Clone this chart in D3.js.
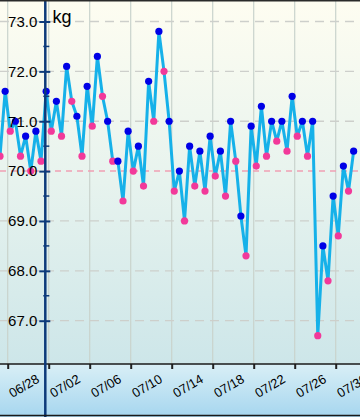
<!DOCTYPE html>
<html>
<head>
<meta charset="utf-8">
<script src="https://cdn.jsdelivr.net/npm/d3@7"></script>
<style>
  html, body { margin: 0; padding: 0; background: #fff; }
  svg { display: block; font-family: "Liberation Sans", Arial, sans-serif; }
</style>
</head>
<body>
<svg id="chart" width="360" height="417"></svg>
<script>
// ---- data ----
const days = ["06/27","06/28","06/29","06/30","07/01","07/02","07/03","07/04","07/05","07/06",
              "07/07","07/08","07/09","07/10","07/11","07/12","07/13","07/14","07/15","07/16",
              "07/17","07/18","07/19","07/20","07/21","07/22","07/23","07/24","07/25","07/26",
              "07/27","07/28","07/29","07/30","07/31"];
const morning = [70.3,70.8,70.3,70.0,70.2,70.8,70.7,71.4,70.3,70.9,
                 71.5,70.2,69.4,70.0,69.7,71.0,72.0,69.6,69.0,69.7,
                 69.6,69.9,69.5,70.2,68.3,70.1,70.3,70.6,70.4,70.7,
                 70.3,66.7,67.8,68.7,69.6];
const evening = [71.6,71.0,70.7,70.8,71.6,71.4,72.1,71.1,71.7,72.3,
                 71.0,70.2,70.8,70.5,71.8,72.8,71.0,70.0,70.5,70.4,
                 70.7,70.4,71.0,69.1,70.9,71.3,71.0,71.0,71.5,71.0,
                 71.0,68.5,69.5,70.1,70.4];
const xTickLabels = ["06/28","07/02","07/06","07/10","07/14","07/18","07/22","07/26","07/30"];
const yTicks = [67, 68, 69, 70, 71, 72, 73];
const yMinorTicks = [67.5, 68.5, 69.5, 70.5, 71.5, 72.5];
const target = 70.0;
const unit = "kg";

// ---- setup ----
const W = 360, H = 417, plotBottom = 364, axisX = 45.3;
const parse = s => d3.timeParse("%Y/%m/%d")("2013/" + s);
const points = [];
days.forEach((d, i) => {
  const base = parse(d);
  points.push({t: d3.timeHour.offset(base, 6), v: morning[i], kind: "m"});
  points.push({t: d3.timeHour.offset(base, 18), v: evening[i], kind: "e"});
});

const x = d3.scaleTime()
  .domain([parse("06/28"), parse("07/30")])
  .range([7.7, 335.7]);
const y = d3.scaleLinear().domain([67, 73]).range([320.7, 21.5]);

const svg = d3.select("#chart");
const defs = svg.append("defs");
const g1 = defs.append("linearGradient").attr("id", "bgPlot").attr("x1", 0).attr("y1", 0).attr("x2", 0).attr("y2", 1);
g1.append("stop").attr("offset", "0%").attr("stop-color", "#fefdf1");
g1.append("stop").attr("offset", "50%").attr("stop-color", "#e7f3ee");
g1.append("stop").attr("offset", "100%").attr("stop-color", "#cde6e9");
const g2 = defs.append("linearGradient").attr("id", "bgAxis").attr("x1", 0).attr("y1", 0).attr("x2", 0).attr("y2", 1);
g2.append("stop").attr("offset", "0%").attr("stop-color", "#d9eff6");
g2.append("stop").attr("offset", "100%").attr("stop-color", "#a6d6ef");

svg.append("rect").attr("x", 0).attr("y", 0).attr("width", W).attr("height", plotBottom).attr("fill", "url(#bgPlot)");
svg.append("rect").attr("x", 0).attr("y", plotBottom).attr("width", W).attr("height", H - plotBottom).attr("fill", "url(#bgAxis)");

const tickDates = xTickLabels.map(parse);

// vertical grid
svg.append("g").selectAll("line").data(tickDates).join("line")
  .attr("x1", d => x(d)).attr("x2", d => x(d))
  .attr("y1", 0).attr("y2", plotBottom)
  .attr("stroke", "#c9d3cc").attr("stroke-width", 1.2);

// horizontal dashed grid
svg.append("g").selectAll("line").data(yTicks.filter(v => v !== target)).join("line")
  .attr("x1", 0).attr("x2", W)
  .attr("y1", d => y(d)).attr("y2", d => y(d))
  .attr("stroke", "#cdcfcb").attr("stroke-width", 1.3).attr("stroke-dasharray", "9,6");

// target line
svg.append("line")
  .attr("x1", 0).attr("x2", W).attr("y1", y(target)).attr("y2", y(target))
  .attr("stroke", "#f0a0b4").attr("stroke-width", 1.5).attr("stroke-dasharray", "6,5");

// data line
const line = d3.line().x(d => x(d.t)).y(d => y(d.v));
svg.append("path").datum(points)
  .attr("d", line).attr("fill", "none")
  .attr("stroke", "#16b1e9").attr("stroke-width", 3).attr("stroke-linejoin", "round");

// points
svg.append("g").selectAll("circle").data(points).join("circle")
  .attr("cx", d => x(d.t)).attr("cy", d => y(d.v)).attr("r", 3.6)
  .attr("fill", d => d.kind === "m" ? "#f2399a" : "#0000e6");

// x axis
const xAxis = d3.axisBottom(x).tickValues(tickDates).tickFormat(d3.timeFormat("%m/%d")).tickSize(5).tickSizeOuter(0);
const gx = svg.append("g").attr("transform", `translate(0,${plotBottom})`).call(xAxis);
gx.select(".domain").remove();
gx.selectAll(".tick line").attr("stroke", "#222").attr("stroke-width", 2);
gx.selectAll(".tick text")
  .attr("font-size", 13).attr("fill", "#000")
  .attr("text-anchor", "start").attr("dy", null).attr("y", null)
  .attr("transform", "translate(4,34) rotate(-30)");
svg.append("line").attr("x1", 0).attr("x2", W).attr("y1", plotBottom).attr("y2", plotBottom)
  .attr("stroke", "#1a1a1a").attr("stroke-width", 1.5);

// y axis
const yAxis = d3.axisLeft(y).tickValues(yTicks).tickFormat(d3.format(".1f")).tickSize(6).tickPadding(8);
const gy = svg.append("g").attr("transform", `translate(${axisX},0)`).call(yAxis);
gy.select(".domain").remove();
gy.selectAll(".tick line").attr("x1", 5).attr("x2", -6).attr("stroke", "#0d3a7a").attr("stroke-width", 2);
gy.selectAll(".tick text").attr("font-size", 15).attr("fill", "#000").attr("x", -8);
svg.append("g").selectAll("line").data(yMinorTicks).join("line")
  .attr("x1", axisX - 2).attr("x2", axisX + 4)
  .attr("y1", d => y(d)).attr("y2", d => y(d))
  .attr("stroke", "#0d3a7a").attr("stroke-width", 1.5);
svg.append("line").attr("x1", axisX).attr("x2", axisX).attr("y1", 0).attr("y2", H)
  .attr("stroke", "#0d3a7a").attr("stroke-width", 2.5);

// unit label
svg.append("text").attr("x", 52.5).attr("y", 23).attr("font-size", 18).attr("fill", "#000").text(unit);

// borders
svg.append("line").attr("x1", 0).attr("x2", W).attr("y1", 0.75).attr("y2", 0.75).attr("stroke", "#2a2a2a").attr("stroke-width", 1.5);
svg.append("line").attr("x1", 0).attr("x2", W).attr("y1", 415.5).attr("y2", 415.5).attr("stroke", "#1a1a1a").attr("stroke-width", 1.5);
</script>
</body>
</html>
